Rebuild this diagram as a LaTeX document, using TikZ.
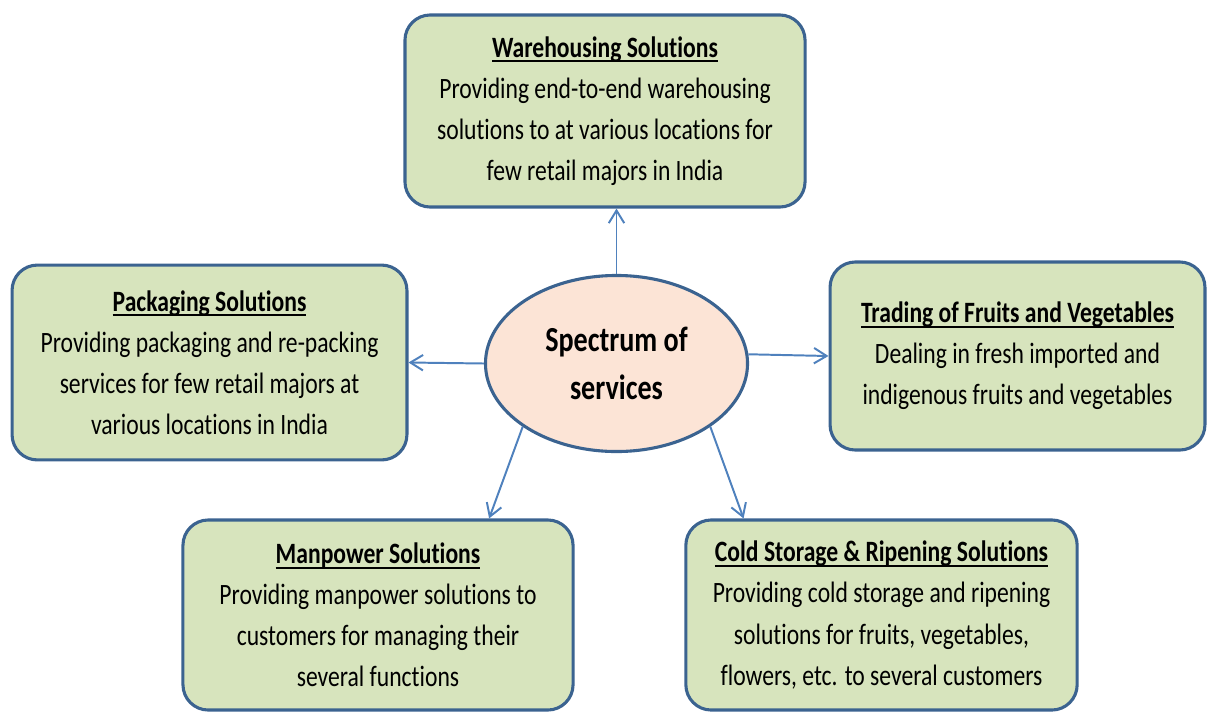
\documentclass[tikz,border=0pt]{standalone}
\usepackage{fontspec}
\setmainfont{Carlito}[FakeStretch=0.8, Ligatures=NoCommon]
\usepackage{tikz}
\usetikzlibrary{arrows.meta,shapes.geometric}
\definecolor{boxfill}{HTML}{D7E4BD}
\definecolor{boxline}{HTML}{3B6390}
\definecolor{hubfill}{HTML}{FCE4D6}
\definecolor{linkcolor}{HTML}{4F81BD}
\tikzset{
  svcbox/.style={draw=boxline, line width=2.2pt, fill=boxfill, rounded corners=18pt,
    inner sep=0pt, align=center, font=\fontsize{21}{29.2}\selectfont},
  hubell/.style={ellipse, draw=boxline, line width=2.2pt, fill=hubfill, inner sep=0pt,
    align=center, font=\fontsize{25}{34}\selectfont\bfseries},
  link/.style={-{Straight Barb[length=9pt,width=11pt]}, line width=1.4pt, linkcolor},
}
\newcommand{\ulhead}[1]{\setbox0\hbox{\bfseries #1}\rlap{\rule[-3.6pt]{\wd0}{1.3pt}}\box0}

\begin{document}
\begin{tikzpicture}[x=0.025cm, y=-0.025cm]
    \useasboundingbox (0,0) rectangle (1207,711);
    % centre
    \node[hubell, minimum width=6.55cm, minimum height=4.4cm] (hub) at (616.5,363.5)
      {Spectrum of\\services};
    % service boxes
    \node[svcbox, minimum width=10cm, minimum height=4.8cm] (ware) at (605,111)
      {\ulhead{Warehousing Solutions}\\Providing end-to-end warehousing\\
       solutions to at various locations for\\few retail majors in India};
    \node[svcbox, minimum width=9.87cm, minimum height=4.87cm] (pack) at (209.5,362.5)
      {\ulhead{Packaging Solutions}\\Providing packaging and re-packing\\
       services for few retail majors at\\various locations in India};
    \node[svcbox, minimum width=9.37cm, minimum height=4.7cm] (trade) at (1017.5,356)
      {\ulhead{Trading of Fruits and Vegetables}\\Dealing in fresh imported and\\
       indigenous fruits and vegetables};
    \node[svcbox, minimum width=9.75cm, minimum height=4.75cm] (man) at (378,615)
      {\ulhead{Manpower Solutions}\\Providing manpower solutions to\\
       customers for managing their\\several functions};
    \node[svcbox, minimum width=9.78cm, minimum height=4.75cm] (cold) at (881.5,615)
      {\ulhead{Cold Storage \& Ripening Solutions}\\Providing cold storage and ripening\\
       solutions for fruits, vegetables,\\flowers, etc. to several customers};
    % connectors
    \draw[link] (hub.north) -- (hub.north |- ware.south);
    \draw[link] (hub.west) -- (pack.east);
    \draw[link] (hub.4) -- (trade.west);
    \draw[link] (hub.214) -- (man.41);
    \draw[link] (hub.326) -- (cold.145);
  \end{tikzpicture}
\end{document}
